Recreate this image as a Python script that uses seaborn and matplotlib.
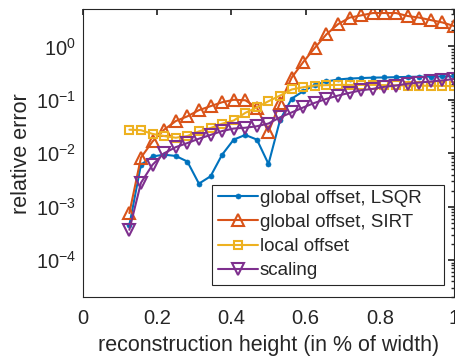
import numpy as np
import pandas as pd
import matplotlib
matplotlib.use("Agg")
import matplotlib.pyplot as plt
import matplotlib.ticker as mticker
from matplotlib.patches import Rectangle
import seaborn as sns

# reconstruction height as a fraction of the width (k/32, k = 4..32)
height = [k / 32 for k in range(4, 33)]

err_lsqr = [4.5e-4, 6.1e-3, 8.7e-3, 9.4e-3, 8.9e-3, 7.0e-3, 2.7e-3, 3.7e-3, 9.4e-3,
            0.018, 0.022, 0.018, 6.3e-3, 0.042, 0.105, 0.145, 0.19, 0.22, 0.24,
            0.25, 0.255, 0.26, 0.262, 0.265, 0.268, 0.27, 0.272, 0.274, 0.276]
err_sirt = [7.6e-4, 8.3e-3, 0.0166, 0.0276, 0.040, 0.049, 0.064, 0.076, 0.090,
            0.10, 0.098, 0.071, 0.025, 0.088, 0.26, 0.51, 0.94, 1.68, 2.6,
            3.45, 3.8, 4.2, 4.2, 4.2, 3.7, 3.45, 3.1, 2.8, 2.4]
err_local = [0.0276, 0.027, 0.023, 0.021, 0.0195, 0.021, 0.0256, 0.0296, 0.0357,
             0.041, 0.057, 0.072, 0.094, 0.12, 0.156, 0.172, 0.185, 0.188, 0.19,
             0.19, 0.19, 0.19, 0.188, 0.186, 0.185, 0.184, 0.183, 0.182, 0.18]
err_scaling = [3.7e-4, 2.8e-3, 6.1e-3, 0.010, 0.013, 0.0155, 0.0187, 0.022, 0.026,
               0.029, 0.030, 0.032, 0.036, 0.047, 0.058, 0.072, 0.088, 0.104, 0.12,
               0.135, 0.151, 0.16, 0.175, 0.185, 0.20, 0.21, 0.22, 0.23, 0.245]

labels = ["global offset, LSQR", "global offset, SIRT", "local offset", "scaling"]
x_ticks = [0, 0.2, 0.4, 0.6, 0.8, 1]
x_tick_labels = ["0", "0.2", "0.4", "0.6", "0.8", "1"]

sns.set_theme(style="white")
plt.rcParams["font.family"] = ["Liberation Sans", "DejaVu Sans"]
plt.rcParams["mathtext.default"] = "regular"

ink = "#262626"
styles = [
    dict(color="#0072BD", marker="o", markersize=3.6, markerfacecolor="#0072BD",
         markeredgecolor="#0072BD", markeredgewidth=0.5),
    dict(color="#D95319", marker="^", markersize=8, markerfacecolor="none",
         markeredgecolor="#D95319", markeredgewidth=1.5),
    dict(color="#EDB120", marker="s", markersize=6, markerfacecolor="none",
         markeredgecolor="#EDB120", markeredgewidth=1.5),
    dict(color="#7E2F8E", marker="v", markersize=8, markerfacecolor="none",
         markeredgecolor="#7E2F8E", markeredgewidth=1.5),
]
series = [err_lsqr, err_sirt, err_local, err_scaling]

fig = plt.figure(figsize=(4.56, 3.57), dpi=100)
ax = fig.add_axes([0.182, 0.1667, 0.8136, 0.8081])

for vals, lab, st in zip(series, labels, styles):
    df = pd.DataFrame({"height": height, "err": vals})
    sns.lineplot(data=df, x="height", y="err", ax=ax, label=lab,
                 linewidth=1.5, **st)

ax.set_yscale("log")
ax.set_xlim(0, 1)
ax.set_ylim(2e-5, 5)
ax.set_xticks(x_ticks)
ax.set_xticklabels(x_tick_labels)
ax.yaxis.set_minor_locator(mticker.LogLocator(base=10, subs=np.arange(2, 10), numticks=20))
ax.yaxis.set_major_formatter(mticker.LogFormatterMathtext())
ax.set_yticks([1e-4, 1e-3, 1e-2, 1e-1, 1e0])

for side in ["top", "right", "bottom", "left"]:
    ax.spines[side].set_visible(True)
    ax.spines[side].set_color(ink)
    ax.spines[side].set_linewidth(0.8)

ax.tick_params(axis="both", which="both", direction="in", top=True, right=True,
               colors=ink, labelcolor=ink, labelsize=14.5)
ax.tick_params(axis="x", which="major", length=4, pad=8)
ax.tick_params(axis="y", which="major", length=4, pad=5)
ax.tick_params(axis="y", which="minor", length=2.5)

ax.set_xlabel("reconstruction height (in % of width)", fontsize=15.5, color=ink, labelpad=5)
ax.set_ylabel("relative error", fontsize=15.5, color=ink, labelpad=3)

# legend box drawn as a plain rectangle with extra room on the right
box = Rectangle((0.3477, 0.0433), 0.973 - 0.3477, 0.390 - 0.0433,
                transform=ax.transAxes, facecolor="white", edgecolor=ink,
                linewidth=0.8, zorder=4.5)
ax.add_patch(box)

leg = ax.legend(loc="upper left", bbox_to_anchor=(0.364, 0.374), borderaxespad=0,
                fontsize=13.5, frameon=False, handlelength=2.13,
                handletextpad=0.1, labelspacing=0.38, borderpad=0, numpoints=1)
leg.set_zorder(5)
for t in leg.get_texts():
    t.set_color(ink)

fig.savefig("out.png", dpi=100)
